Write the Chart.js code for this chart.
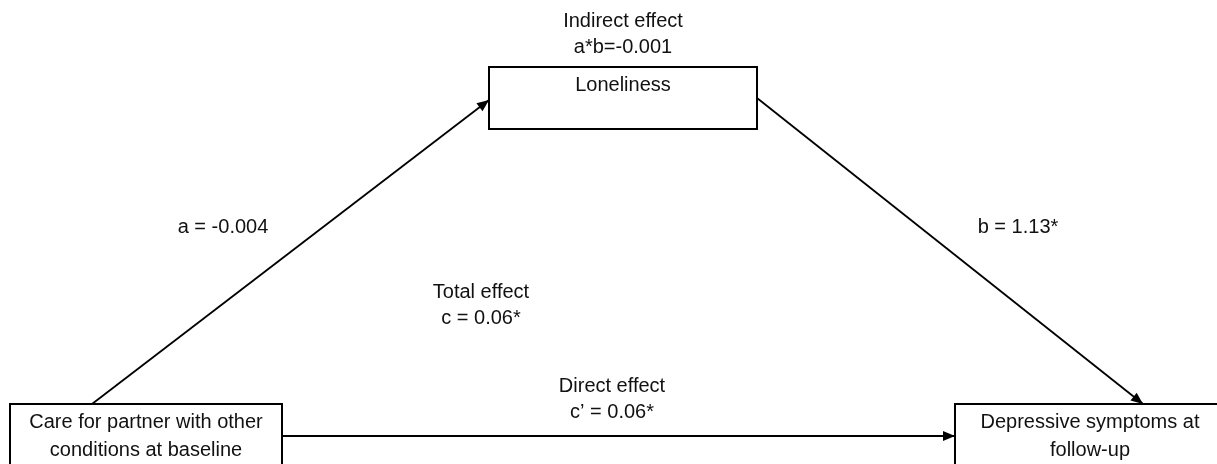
<!DOCTYPE html>
<html>
<head>
<meta charset="utf-8">
<script src="https://cdn.jsdelivr.net/npm/chart.js@4"></script>
<style>
  html, body { margin: 0; padding: 0; background: #fff; overflow: hidden; }
  #wrap { width: 1217px; height: 464px; position: relative; }
</style>
</head>
<body>
<div id="wrap"><canvas id="diagram"></canvas></div>
<script>
// mediation model: variables and path estimates
const nodeNames = [
    ['Care for partner with other', 'conditions at baseline'],
    ['Loneliness'],
    ['Depressive symptoms at', 'follow-up']
];
const pathNames = ['a', 'b', "c'", 'c', 'a*b'];
const pathValues = ['-0.004', '1.13*', '0.06*', '0.06*', '-0.001'];
const effectNames = ['Indirect effect', 'Total effect', 'Direct effect'];

// layout (diagram units = pixels of the picture, y grows downward)
// sides: which edges of a box fall inside the picture
const boxes = [
    { x0: 10, x1: 282, y0: 404, y1: 470, sides: 'lefttopright' },
    { x0: 489, x1: 757, y0: 67, y1: 129, sides: 'all' },
    { x0: 955, x1: 1300, y0: 404, y1: 470, sides: 'lefttop' }
];
const arrows = [
    { from: [92, 404], to: [489, 100] },
    { from: [757, 98], to: [1143, 404] },
    { from: [282, 436], to: [955, 436] }
];

const FONT = '20px "Liberation Sans", Arial, sans-serif';

function boxPoints(b) {
    const pts = [{ x: b.x0, y: b.y1 }, { x: b.x0, y: b.y0 }, { x: b.x1, y: b.y0 }];
    if (b.sides !== 'lefttop') pts.push({ x: b.x1, y: b.y1 });
    if (b.sides === 'all') pts.push({ x: b.x0, y: b.y1 }, { x: b.x0, y: b.y0 });
    return pts;
}

const datasets = [];
boxes.forEach(b => datasets.push({
    data: boxPoints(b), showLine: true, borderColor: '#000', borderWidth: 2,
    pointRadius: 0, fill: false, tension: 0, clip: false, kind: 'box'
}));
arrows.forEach(a => datasets.push({
    data: [{ x: a.from[0], y: a.from[1] }, { x: a.to[0], y: a.to[1] }],
    showLine: true, borderColor: '#000', borderWidth: 1.8,
    pointRadius: 0, fill: false, tension: 0, clip: false, kind: 'arrow'
}));

const labelPlugin = {
    id: 'diagramText',
    afterDatasetsDraw(chart) {
        const ctx = chart.ctx;
        const sx = chart.scales.x, sy = chart.scales.y;
        const px = v => sx.getPixelForValue(v);
        const py = v => sy.getPixelForValue(v);

        // arrowheads
        chart.data.datasets.forEach(ds => {
            if (ds.kind !== 'arrow') return;
            const p0 = ds.data[0], p1 = ds.data[1];
            const x0 = px(p0.x), y0 = py(p0.y), x1 = px(p1.x), y1 = py(p1.y);
            const ang = Math.atan2(y1 - y0, x1 - x0);
            const len = 12, half = 5;
            ctx.save();
            ctx.fillStyle = '#000';
            ctx.beginPath();
            ctx.moveTo(x1, y1);
            ctx.lineTo(x1 - len * Math.cos(ang) + half * Math.sin(ang),
                       y1 - len * Math.sin(ang) - half * Math.cos(ang));
            ctx.lineTo(x1 - len * Math.cos(ang) - half * Math.sin(ang),
                       y1 - len * Math.sin(ang) + half * Math.cos(ang));
            ctx.closePath();
            ctx.fill();
            ctx.restore();
        });

        ctx.save();
        ctx.font = FONT;
        ctx.fillStyle = '#111';
        ctx.textAlign = 'center';
        ctx.textBaseline = 'middle';
        const text = (s, x, y) => ctx.fillText(s, px(x), py(y));

        // node names
        text(nodeNames[0][0], 146, 422);
        text(nodeNames[0][1], 146, 450);
        text(nodeNames[1][0], 623, 85);
        text(nodeNames[2][0], 1090, 422);
        text(nodeNames[2][1], 1090, 450);

        // path estimates
        text(pathNames[0] + ' = ' + pathValues[0], 223, 227);
        text(pathNames[1] + ' = ' + pathValues[1], 1018, 227);
        text(effectNames[0], 623, 21);
        text(pathNames[4] + '=' + pathValues[4], 623, 47);
        text(effectNames[1], 481, 292);
        text(pathNames[3] + ' = ' + pathValues[3], 481, 318);
        text(effectNames[2], 612, 386);
        text('c\u2019 = ' + pathValues[2], 612, 412);
        ctx.restore();
    }
};

new Chart(document.getElementById('diagram').getContext('2d'), {
    type: 'scatter',
    data: { datasets: datasets },
    options: {
        responsive: true,
        maintainAspectRatio: false,
        animation: false,
        layout: { padding: 0 },
        scales: {
            x: { type: 'linear', min: 0, max: 1217, display: false },
            y: { type: 'linear', min: 0, max: 464, reverse: true, display: false }
        },
        plugins: {
            legend: { display: false },
            tooltip: { enabled: false }
        }
    },
    plugins: [labelPlugin]
});
</script>
</body>
</html>
